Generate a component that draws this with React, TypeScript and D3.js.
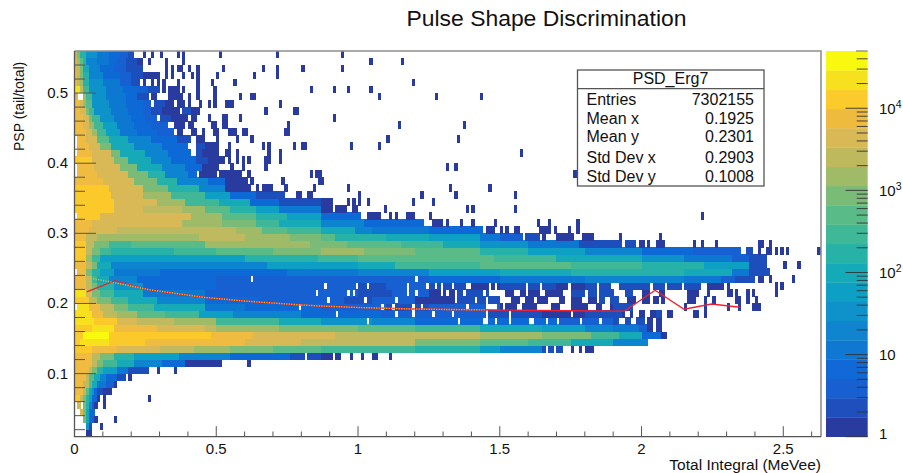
import React from "react";
import * as d3 from "d3";

type Run = [number, number, number];

const palette = ["#2a3b9f","#1e4fbc","#1860d2","#1069d6","#0f78d2","#1084cf","#0f92c9","#0d9fc4","#14aab8","#27b2a8","#3fb898","#58bb88","#7abb78","#a0bb68","#bfb95e","#d9b955","#efbb3f","#fbca2b","#f7e01d","#f9f910"];

// Heat cells: each run is [first column, end column, colour level]; columns are 0.01 MeVee wide, rows 0.01 PSP tall.
const tailRuns: Run[][] = [
  [[4,6,0]],
  [[4,5,6],[5,6,1]],
  [[3,4,12],[4,5,8],[5,6,3],[6,7,2]],
  [[2,3,15],[3,4,12],[4,5,8],[5,7,3]],
  [[1,2,15],[3,4,12],[4,5,9],[5,6,5],[6,7,2],[7,8,0]],
  [[0,2,17],[2,3,14],[3,4,12],[4,5,9],[5,6,7],[6,8,3],[8,9,0]],
  [[0,3,16],[3,4,14],[4,5,11],[5,6,8],[6,7,6],[7,8,3],[8,10,1],[10,13,0]],
  [[0,3,16],[3,5,14],[5,6,11],[6,8,8],[8,11,4],[11,14,2],[14,15,0]],
  [[0,4,16],[4,5,14],[5,7,11],[7,9,8],[9,11,5],[11,15,3],[15,18,1]],
  [[0,5,16],[5,6,14],[6,8,12],[8,10,9],[10,15,7],[15,19,4],[19,26,1]],
  [[0,6,16],[6,8,14],[8,10,12],[10,15,10],[15,21,8],[21,31,5],[31,39,3],[39,47,0]],
  [[0,6,16],[6,9,14],[9,14,12],[14,21,9],[21,37,7],[37,55,5],[55,76,3],[76,81,1],[82,87,1]],
];
const lowerBandRuns: Run[][] = [
  [[0,6,17],[6,15,16],[15,30,15],[30,42,14],[42,55,13],[55,70,12],[70,87,11],[87,120,10],[120,143,9],[143,150,7],[150,165,5],[165,172,1]],
  [[0,2,17],[2,12,18],[12,25,17],[25,60,16],[60,80,15],[80,120,14],[120,143,12],[143,160,11],[160,175,10],[175,190,8],[190,202,5]],
  [[0,3,17],[3,12,19],[12,48,17],[48,63,16],[63,92,15],[92,143,14],[143,165,13],[165,182,12],[182,192,10],[192,200,8],[200,207,3],[207,209,0]],
  [[0,6,17],[6,14,18],[14,29,16],[29,46,15],[46,50,14],[50,72,13],[72,100,12],[100,120,11],[120,143,10],[143,165,8],[165,180,7],[180,190,5],[190,199,4],[199,202,2],[202,204,0],[205,207,0]],
];
const gapRuns: Run[][] = [
  [[0,7,18],[7,15,17],[15,22,15],[22,35,14],[35,50,13],[50,72,10],[72,87,8],[87,105,6],[105,120,5],[120,170,3],[170,190,2],[190,202,1],[202,204,0],[205,207,0]],
  [[0,6,18],[6,10,16],[10,15,14],[15,22,13],[22,32,11],[32,44,10],[44,56,7],[56,80,5],[80,108,3],[108,125,2],[125,145,2],[145,165,1],[165,180,0],[180,193,1],[193,200,0],[200,201,0],[203,205,0],[205,207,1],[209,211,0],[218,220,0],[222,223,0]],
  [[0,5,18],[5,9,16],[9,14,14],[14,19,12],[19,28,10],[28,46,8],[46,60,4],[60,87,3],[87,95,2],[95,110,2],[110,125,1],[125,150,2],[150,190,0],[190,197,1],[215,216,0],[222,223,0],[230,231,0],[234,235,0],[239,242,0]],
  [[0,5,17],[5,8,14],[8,13,12],[13,19,10],[19,29,8],[29,46,5],[46,65,3],[65,95,2],[95,105,1],[105,120,2],[120,135,0],[135,150,1],[150,185,0],[185,195,1],[195,206,0],[207,208,0],[216,219,0],[222,223,0],[225,226,0],[233,235,0],[237,238,0],[240,241,0]],
  [[0,4,18],[4,6,15],[6,9,12],[9,14,10],[14,24,8],[24,46,4],[46,70,2],[70,100,2],[100,112,1],[112,125,2],[125,135,0],[135,150,1],[150,175,0],[175,200,1],[200,203,0],[206,208,0],[216,220,0],[223,224,0],[230,232,0],[233,234,0],[237,238,0],[239,240,0],[247,248,0]],
  [[0,4,16],[4,6,14],[6,8,12],[8,14,9],[14,24,6],[24,50,3],[50,100,2],[100,110,1],[110,125,2],[125,140,1],[140,150,0],[150,170,1],[170,180,0],[180,221,1],[223,225,0],[225,229,0],[230,231,0],[247,248,0],[249,250,0]],
  [[0,4,16],[4,6,14],[6,8,10],[8,12,8],[12,22,5],[22,50,3],[50,125,2],[125,150,3],[150,180,4],[180,215,5],[215,228,4],[228,233,2],[233,240,1],[241,243,0],[245,246,0],[253,254,0]],
];
const upperBandRuns: Run[][] = [
  [[1,4,16],[4,6,12],[6,9,9],[9,14,7],[14,30,4],[30,75,3],[75,100,4],[100,125,5],[125,150,7],[150,175,8],[175,215,9],[215,232,8],[232,238,4],[238,245,1]],
  [[0,4,16],[4,6,14],[6,8,12],[8,13,8],[13,68,5],[68,100,7],[100,113,8],[113,143,10],[143,175,11],[175,200,10],[200,222,9],[222,238,7],[238,244,1],[250,251,0],[255,256,0]],
  [[0,4,17],[4,6,13],[6,9,10],[9,60,7],[60,86,9],[86,100,10],[100,148,11],[148,170,10],[170,200,8],[200,215,6],[215,232,4],[232,238,2],[238,244,1]],
  [[0,4,17],[4,6,14],[6,9,12],[9,13,10],[13,35,9],[35,50,10],[50,70,11],[70,87,12],[87,102,13],[102,120,12],[120,143,11],[143,160,9],[160,180,7],[180,200,5],[200,218,3],[218,235,2],[237,239,1],[241,242,0],[244,246,0],[247,248,0],[249,250,0],[251,252,0],[262,263,0]],
  [[0,4,17],[4,7,14],[7,12,12],[12,20,10],[20,46,11],[46,83,13],[83,96,12],[96,115,11],[115,130,10],[130,143,8],[143,160,6],[160,178,4],[178,193,1],[194,198,1],[199,201,0],[202,203,0],[205,208,0],[218,219,0],[221,222,0],[226,227,0],[241,243,0],[245,246,0]],
  [[0,4,16],[4,8,14],[8,13,13],[13,44,13],[44,60,14],[60,76,13],[76,87,12],[87,92,11],[92,110,9],[110,125,8],[125,143,7],[143,150,4],[150,158,2],[159,164,1],[165,166,0],[170,176,0],[179,183,0]],
];
const fanRuns: Run[][] = [
  [[0,5,16],[5,15,15],[15,57,14],[57,66,13],[66,75,11],[75,87,10],[87,99,8],[99,105,5],[105,125,4],[125,144,3],[145,148,0]],
  [[0,6,16],[6,38,15],[38,52,13],[52,64,12],[64,72,10],[72,87,8],[87,102,5],[102,123,3]],
  [[0,9,17],[9,41,15],[41,52,13],[52,64,11],[64,75,9],[75,87,7],[87,101,3]],
  [[0,14,17],[14,24,15],[24,38,14],[38,46,13],[46,55,11],[55,64,9],[64,72,7],[72,87,4],[87,91,0],[92,96,0]],
  [[0,14,17],[14,29,15],[29,39,13],[39,51,10],[51,62,8],[62,72,3],[72,87,1],[87,91,0]],
  [[0,13,17],[13,24,15],[24,34,13],[34,46,10],[46,55,7],[55,64,3],[64,74,1]],
  [[0,12,17],[12,24,15],[24,33,12],[33,44,9],[44,53,5],[53,62,0]],
  [[0,10,16],[10,21,15],[21,29,12],[29,36,9],[36,47,5],[47,53,3],[53,61,0]],
  [[1,8,16],[8,19,15],[19,26,12],[26,32,9],[32,40,5],[40,43,3],[44,50,0],[51,59,0]],
  [[1,7,16],[7,16,15],[16,22,12],[22,31,8],[31,39,5],[39,45,3],[45,51,0]],
  [[0,6,17],[6,14,15],[14,19,12],[19,27,8],[27,34,5],[34,43,3],[43,47,1]],
  [[1,6,16],[6,13,15],[13,16,12],[16,25,8],[25,33,5],[33,41,3],[43,45,1]],
  [[1,5,16],[5,9,15],[9,13,12],[13,21,8],[21,31,5],[31,40,3],[43,46,1]],
  [[1,4,16],[4,8,15],[8,12,11],[12,19,8],[19,27,5],[27,36,3],[36,41,1]],
  [[0,4,16],[4,6,15],[6,8,13],[8,11,10],[11,16,7],[16,22,4],[22,29,3],[29,35,2]],
  [[0,3,16],[3,5,15],[5,7,13],[7,10,10],[10,15,7],[15,21,4],[21,27,3],[27,33,2]],
  [[0,3,16],[3,5,15],[5,6,12],[6,9,10],[9,14,6],[14,20,4],[20,25,3],[25,29,2],[30,34,1]],
  [[0,2,16],[2,4,15],[4,5,12],[5,7,10],[7,13,6],[13,19,4],[19,24,3],[24,27,2],[27,31,1],[38,41,1]],
  [[0,2,16],[2,3,15],[3,4,13],[4,6,11],[6,12,6],[12,18,4],[18,24,3],[24,27,2],[28,32,1]],
  [[0,1,15],[3,4,13],[4,6,10],[6,11,6],[11,18,4],[18,22,3],[22,26,1]],
  [[0,2,18],[2,3,14],[3,5,10],[5,11,6],[11,17,4],[17,22,3],[22,26,2],[26,30,1]],
  [[0,1,16],[1,2,14],[2,3,13],[3,5,9],[5,10,6],[10,16,4],[16,20,2],[20,23,1]],
  [[0,1,16],[1,2,14],[2,3,12],[3,5,9],[5,10,5],[10,16,3],[16,20,2],[20,24,1],[24,30,0]],
  [[0,1,15],[1,2,14],[2,3,12],[3,5,8],[5,9,5],[9,14,3],[14,18,2],[18,24,1]],
  [[0,1,15],[1,2,13],[2,3,11],[3,4,9],[4,8,5],[8,12,4],[12,15,3],[15,18,2],[18,22,1],[22,24,0]],
  [[0,1,14],[1,2,12],[2,4,9],[4,8,6],[8,12,4],[12,16,3],[16,19,2],[19,21,1]],
];

// Isolated single-count cells: [row, columns]
const strayCells: [number, number[]][] = [
  [1,[9]],[2,[7,14]],[4,[10]],[5,[10,26]],[8,[19]],[9,[29,35]],[10,[47,48,49,50,51,61]],
  [11,[87,88,89,90,92,93,97,101,105,106,111]],[12,[175,178,180,181,182]],
  [29,[150,152,155,156,164,165,166,167,169,174,177]],[28,[181,192,206]],
  [30,[126,127,128,129,131,136,140,148,163,167,177]],[31,[103,104,105,106,107,111,113,117,118,119,125,221]],
  [32,[98,99,109,138,140,155]],[33,[96,98,100,103,119,126]],[34,[78,79,82,83,100,122,134,155]],
  [35,[64,66,67,68,69,74,84,96,132,146]],[36,[62,73,86,87]],[37,[61,83,85,86,176]],[38,[55,59,67,131,134]],
  [39,[43,44,45,46,47,48,49,50,51,52,54,57,59,61,67,68,72]],[40,[43,44,45,46,47,48,49,50,53,54,57,68,72,157]],
  [41,[43,44,45,46,47,48,49,50,54,66,68,77,80,81,97,107]],[42,[43,44,45,50,57,62,110,135]],
  [43,[36,37,41,42,45,49,50,54,55,56,59,60,74,75]],[44,[35,36,37,38,40,41,48,49,52,53,75,114,137]],
  [45,[30,31,32,33,34,35,36,37,38,39,41,42,47,52,53,58,91]],[46,[27,28,29,30,31,32,33,34,35,36,38,39,40,41,42,43,67,77,78]],
  [47,[28,29,30,31,32,33,34,36,37,38,40,44,47,49,53,54,55,72]],[48,[27,28,33,34,35,36,37,40,43,49,58,62,63,107,127,143]],
  [49,[31,33,34,35,36,38,43,49,83,91,96,104]],[50,[24,27,29,31,36,43,48,56,119]],[51,[32,34,38,41,43,50,63,71]],
  [52,[32,34,36,37,40,43,52,66,71,80,94]],[53,[26,32,38,104,115]],[54,[24,27,30,36,38,51,71,94]],
];

// Empty bins inside the noisy region: [row, columns]
const emptyCells: [number, number[]][] = [
  [4,[2]],[12,[166,169]],[11,[81]],[18,[0]],[31,[0]],
  [16,[103,135,144,145,148,153,160,161,166,170,178,185,192,193,196,197,201]],
  [17,[92,113,119,126,133,145,153,175,194,195,197,198]],
  [18,[79,108,112,119,122,138,145,146,147,148,151,156,157,163,164,165,166,167,171,172,173,174,181,182,183,186,187,188]],
  [19,[89,102,113,134,141,145,150,151,152,153,157,158,162,167,168,169,170,173,174,179,180,184,187,188,192,193,194,198,199,203]],
  [20,[85,96,98,117,120,129,131,134,137,144,146,147,148,149,150,151,155,156,159,164,165,172,173,174,180,184,190,191,192,193,197,198,199]],
  [21,[88,99,103,117,124,127,129,133,138,139,146,148,159,164,174,184,189,190,191,203,208,214]],
  [22,[62,120]],
];

const profilePoints: [number, number][] = [[0.043,0.2164],[0.143,0.2325],[0.266,0.219],[0.454,0.2088],[0.595,0.2036],[0.795,0.198],[0.866,0.1964],[1.019,0.194],[1.195,0.192],[1.489,0.1907],[1.747,0.1897],[1.94,0.189],[2.048,0.2188],[2.15,0.1917],[2.247,0.1993],[2.347,0.1946]];
const dottedPoints: [number, number][] = [[0.057,0.236],[0.143,0.2295],[0.266,0.2195],[0.454,0.2088],[0.595,0.2036],[0.795,0.198],[0.866,0.1964],[1.019,0.194],[1.195,0.192],[1.45,0.1908]];

const xMajor = [0, 0.5, 1, 1.5, 2, 2.5];
const yMajor = [0.1, 0.2, 0.3, 0.4, 0.5];
const barMajor: [number, string, string][] = [[1,"1",""],[10,"10",""],[100,"10","2"],[1000,"10","3"],[10000,"10","4"]];
const statRows = [["Entries","7302155",99],["Mean x","0.1925",118.7],["Mean y","0.2301",136.5],["Std Dev x","0.2903",157.5],["Std Dev y","0.1008",176]] as const;

const FONT = "'Liberation Sans', Arial, Helvetica, sans-serif";
const L = 74.5, R = 821, T = 51, B = 436.7;

export default function App() {
  const x = d3.scaleLinear().domain([0, 2.633]).range([L, R]);
  const y = d3.scaleLinear().domain([0.01, 0.56]).range([B, T]);
  const bar = d3.scaleLog().domain([1, 49800]).range([B, T]);
  const levelColor = d3.scaleOrdinal<number, string>().domain(d3.range(20)).range(palette);

  const allRuns = [...tailRuns, ...lowerBandRuns, ...gapRuns, ...upperBandRuns, ...fanRuns];
  const cells = new Map<string, { r: number; c: number; l: number }>();
  allRuns.forEach((runs, r) => runs.forEach(([a, b, l]) => {
    for (let c = a; c < b; c++) cells.set(`${r}:${c}`, { r, c, l });
  }));
  strayCells.forEach(([r, cols]) => cols.forEach((c) => {
    if (!cells.has(`${r}:${c}`)) cells.set(`${r}:${c}`, { r, c, l: 0 });
  }));
  emptyCells.forEach(([r, cols]) => cols.forEach((c) => cells.delete(`${r}:${c}`)));

  const line = d3.line<[number, number]>().x((d) => x(d[0])).y((d) => y(d[1]));

  const xMinor = d3.range(0.1, 2.61, 0.1).filter((v) => Math.abs(v * 2 - Math.round(v * 2)) > 0.01);
  const yMinor = d3.range(0.02, 0.55, 0.02).filter((v) => Math.abs(v * 10 - Math.round(v * 10)) > 0.01);
  const barMinor = d3.range(0, 5).flatMap((e) => d3.range(2, 10).map((m) => m * 10 ** e)).filter((v) => v <= 49800);
  const barLevels = d3.range(20);
  const barH = (B - T) / 20;

  return (
    <svg width={903} height={473} style={{ position: "absolute", left: 0, top: 0, background: "#fff" }} fontFamily={FONT}>
      <defs>
        <filter id="soft" x="-2%" y="-2%" width="104%" height="104%">
          <feGaussianBlur stdDeviation="0.35" />
        </filter>
      </defs>
      <text x={546.5} y={25.5} textAnchor="middle" fontSize={22.9} fill="#111">Pulse Shape Discrimination</text>

      <g filter="url(#soft)" shapeRendering="crispEdges">
        {[...cells.values()].map(({ r, c, l }) => (
          <rect key={`${r}-${c}`} x={x(c * 0.01)} y={y(0.01 + (r + 1) * 0.01)} width={x(0.01) - x(0) + 0.4} height={y(0.01) - y(0.02) + 0.4} fill={levelColor(l)} />
        ))}
      </g>

      <path d={line(profilePoints) ?? ""} fill="none" stroke="#f02030" strokeWidth={1.4} />
      <path d={line(dottedPoints) ?? ""} fill="none" stroke="#e6b820" strokeWidth={1.4} strokeDasharray="1.2 1.3" />

      <g stroke="#555" strokeWidth={1}>
        {xMajor.map((v) => <line key={v} x1={x(v)} x2={x(v)} y1={B} y2={B - 10.5} />)}
        {xMinor.map((v) => <line key={v} x1={x(v)} x2={x(v)} y1={B} y2={B - 5.2} />)}
        {yMajor.map((v) => <line key={v} x1={L} x2={L + 21.5} y1={y(v)} y2={y(v)} />)}
        {yMinor.map((v) => <line key={v} x1={L} x2={L + 10.5} y1={y(v)} y2={y(v)} />)}
      </g>
      <path d={`M${L},${T}H${R}V${B}`} fill="none" stroke="#8e8e8e" strokeWidth={1.6} />
      <path d={`M${L},${T}V${B}H${R}`} fill="none" stroke="#555" strokeWidth={1.3} />

      <g fontSize={15} fill="#111">
        {xMajor.map((v) => <text key={v} x={x(v)} y={454} textAnchor="middle">{String(v)}</text>)}
        {yMajor.map((v) => <text key={v} x={68} y={y(v) + 5} textAnchor="end">{String(v)}</text>)}
      </g>
      <text x={821} y={469.5} textAnchor="end" fontSize={15.5} fill="#111">Total Integral (MeVee)</text>
      <text transform="translate(23.5,151) rotate(-90)" fontSize={14} fill="#111">PSP (tail/total)</text>

      <g>
        {barLevels.map((l) => <rect key={l} x={826} y={B - (l + 1) * barH} width={41.7} height={barH + 0.3} fill={levelColor(l)} />)}
      </g>
      <g stroke="#333" strokeWidth={0.9}>
        {barMajor.map(([v]) => <line key={v} x1={845.5} x2={867.7} y1={bar(v)} y2={bar(v)} />)}
        {barMinor.map((v) => <line key={v} x1={856.7} x2={867.7} y1={bar(v)} y2={bar(v)} />)}
      </g>
      <line x1={856} x2={867.7} y1={T} y2={T} stroke="#8e8e8e" strokeWidth={1.4} />
      <g fontSize={15} fill="#111">
        {barMajor.map(([v, base, exp]) => (
          <text key={v} x={879} y={bar(v) + (v === 1 ? 2 : 5.5)}>
            {base}
            {exp && <tspan dy={-5.5} fontSize={10.5}>{exp}</tspan>}
          </text>
        ))}
      </g>

      <rect x={577.5} y={70} width={186.5} height={116} fill="#fff" stroke="#555" strokeWidth={1.3} />
      <line x1={577.5} x2={764} y1={88.7} y2={88.7} stroke="#555" strokeWidth={1.3} />
      <text x={670.5} y={84} textAnchor="middle" fontSize={16} fill="#111">PSD_Erg7</text>
      <g fontSize={16} fill="#111">
        {statRows.map(([k, v, cy]) => (
          <g key={k}>
            <text x={586.5} y={cy + 5.5}>{k}</text>
            <text x={754} y={cy + 5.5} textAnchor="end">{v}</text>
          </g>
        ))}
      </g>
    </svg>
  );
}
